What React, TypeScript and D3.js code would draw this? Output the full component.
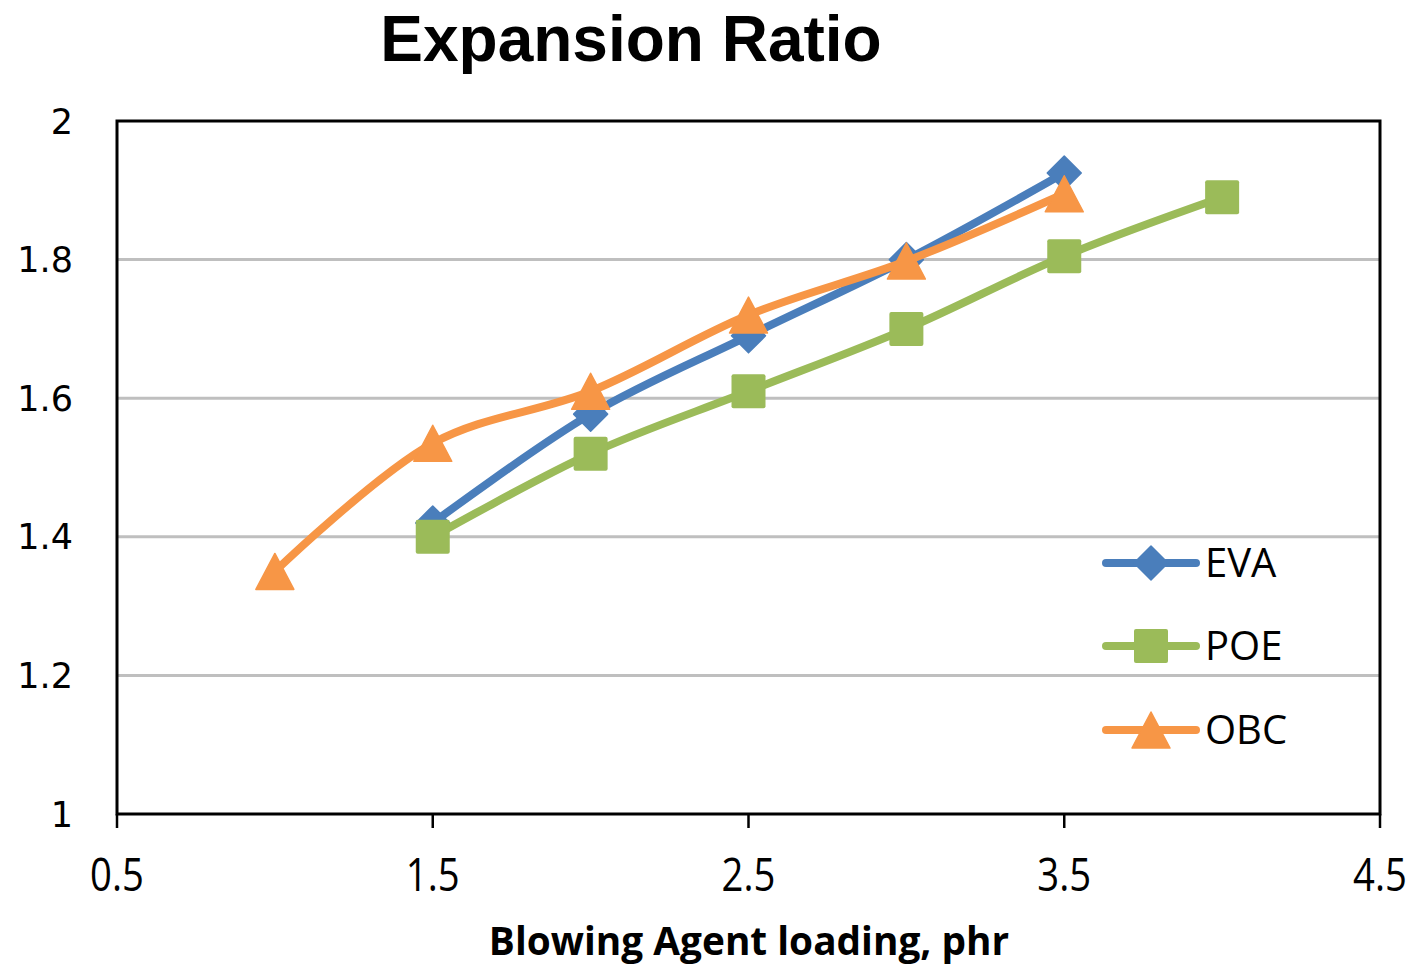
import React from "react";
import * as d3 from "d3";

const xTicks = [0.5, 1.5, 2.5, 3.5, 4.5];
const yTicks = [1, 1.2, 1.4, 1.6, 1.8, 2];

const evaX = [1.5, 2, 2.5, 3, 3.5];
const evaY = [1.42, 1.577, 1.69, 1.80, 1.925];
const poeX = [1.5, 2, 2.5, 3, 3.5, 4];
const poeY = [1.40, 1.52, 1.61, 1.70, 1.805, 1.89];
const obcX = [1, 1.5, 2, 2.5, 3, 3.5];
const obcY = [1.35, 1.535, 1.61, 1.72, 1.798, 1.895];

const seriesNames = ["EVA", "POE", "OBC"];
const seriesColors = ["#4A7EBB", "#9BBB59", "#F79646"];
const seriesMarkers = ["diamond", "square", "triangle"];

const W = 1414, H = 967;
const L = 117, R = 1380, T = 121, B = 814;

function Marker({ kind, x, y, color }: { kind: string; x: number; y: number; color: string }) {
  if (kind === "diamond") {
    const s = 17;
    return <path d={`M${x},${y - s}L${x + s},${y}L${x},${y + s}L${x - s},${y}Z`} fill={color} stroke={color} strokeWidth={1.5} strokeLinejoin="round" />;
  }
  if (kind === "square") {
    const s = 17;
    return <rect x={x - s} y={y - s} width={2 * s} height={2 * s} rx={2} fill={color} />;
  }
  const h = 36, w = 38;
  return <path d={`M${x},${y - h / 2}L${x + w / 2},${y + h / 2}L${x - w / 2},${y + h / 2}Z`} fill={color} stroke={color} strokeWidth={1.5} strokeLinejoin="round" />;
}

export default function App() {
  const x = d3.scaleLinear().domain([0.5, 4.5]).range([L, R]);
  const y = d3.scaleLinear().domain([1, 2]).range([B, T]);
  const line = d3
    .line<[number, number]>()
    .x((d) => x(d[0]))
    .y((d) => y(d[1]))
    .curve(d3.curveCatmullRom.alpha(0.5));

  const data: [number, number][][] = [
    evaX.map((v, i) => [v, evaY[i]]),
    poeX.map((v, i) => [v, poeY[i]]),
    obcX.map((v, i) => [v, obcY[i]]),
  ];

  const legendY = [563, 646, 730];

  return (
    <svg width={W} height={H} style={{ position: "absolute", left: 0, top: 0, background: "#fff" }}>
      <text x={631} y={61} textAnchor="middle" fontFamily="'Liberation Sans', Arial, sans-serif" fontWeight="bold" fontSize={64}>
        Expansion Ratio
      </text>
      {yTicks.filter((t) => t > 1 && t < 2).map((t) => (
        <line key={t} x1={L} x2={R} y1={y(t)} y2={y(t)} stroke="#BFBFBF" strokeWidth={3} />
      ))}
      <rect x={L} y={T} width={R - L} height={B - T} fill="none" stroke="#000" strokeWidth={3} />
      {xTicks.map((t) => (
        <line key={t} x1={x(t)} x2={x(t)} y1={B} y2={B + 14} stroke="#000" strokeWidth={2.5} />
      ))}
      {yTicks.map((t) => (
        <text key={t} x={73} y={y(t)} dy="0.36em" textAnchor="end" fontFamily="'DejaVu Sans', Verdana, sans-serif" fontSize={35}>
          {String(t)}
        </text>
      ))}
      {xTicks.map((t) => (
        <text key={t} transform={`translate(${x(t)},${891}) scale(0.85,1)`} textAnchor="middle" fontFamily="'Open Sans', sans-serif" fontSize={45}>
          {String(t)}
        </text>
      ))}
      <text transform={`translate(749,955) scale(0.97,1)`} textAnchor="middle" fontFamily="'Open Sans', sans-serif" fontWeight="bold" fontSize={40}>
        Blowing Agent loading, phr
      </text>
      {data.map((pts, si) => (
        <g key={si}>
          <path d={line(pts) || ""} fill="none" stroke={seriesColors[si]} strokeWidth={8} strokeLinecap="round" strokeLinejoin="round" />
          {pts.map((p, i) => (
            <Marker key={i} kind={seriesMarkers[si]} x={x(p[0])} y={y(p[1])} color={seriesColors[si]} />
          ))}
        </g>
      ))}
      {seriesNames.map((n, i) => (
        <g key={n}>
          <line x1={1106} x2={1196} y1={legendY[i]} y2={legendY[i]} stroke={seriesColors[i]} strokeWidth={8} strokeLinecap="round" />
          <Marker kind={seriesMarkers[i]} x={1151} y={legendY[i]} color={seriesColors[i]} />
          <text transform={`translate(1205,${legendY[i]})`} dy="0.36em" fontFamily="'Open Sans', sans-serif" fontSize={40}>
            {n}
          </text>
        </g>
      ))}
    </svg>
  );
}
